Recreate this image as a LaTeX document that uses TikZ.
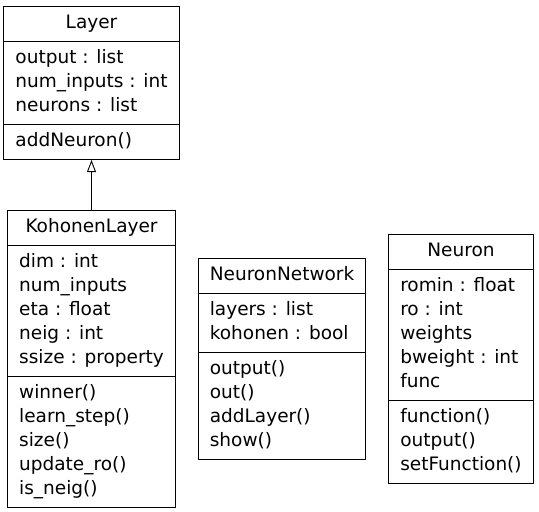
\documentclass[tikz,border=0pt]{standalone}
\usepackage{fontspec}
\newfontfamily\umlfont{DejaVu Sans}
\usepackage{tikz}
\usetikzlibrary{positioning, shapes.multipart, arrows.meta}

\begin{document}
\begin{tikzpicture}[x=1pt, y=-1pt,
    umlclass/.style={draw, line width=1pt, rectangle split, rectangle split parts=3,
      rectangle split part align={center,left,left}, align=left,
      inner xsep=11.5pt, inner ysep=5pt,
      font=\umlfont\fontsize{18.5}{24}\selectfont},
    inherit/.style={-{Triangle[open, length=12pt, width=9pt]}, line width=0.9pt}]
  \useasboundingbox (0,0) rectangle (539,512);
  \node[umlclass, anchor=north] (layer) at (91.5,6) {\strut Layer
    \nodepart{two}\strut output : list\\\strut num\_inputs : int\\\strut neurons : list
    \nodepart{three}\strut addNeuron()};
  \node[umlclass, below=50pt of layer] (kohonen) {\strut KohonenLayer
    \nodepart{two}\strut dim : int\\\strut num\_inputs\\\strut eta : float\\\strut neig : int\\\strut ssize : property
    \nodepart{three}\strut winner()\\\strut learn\_step()\\\strut size()\\\strut update\_ro()\\\strut is\_neig()};
  \node[umlclass, right=22pt of kohonen] (network) {\strut NeuronNetwork
    \nodepart{two}\strut layers : list\\\strut kohonen : bool
    \nodepart{three}\strut output()\\\strut out()\\\strut addLayer()\\\strut show()};
  \node[umlclass, right=22pt of network] (neuron) {\strut Neuron
    \nodepart{two}\strut romin : float\\\strut ro : int\\\strut weights\\\strut bweight : int\\\strut func
    \nodepart{three}\strut function()\\\strut output()\\\strut setFunction()};
  \draw[inherit] (kohonen) -- (layer);
\end{tikzpicture}
\end{document}
